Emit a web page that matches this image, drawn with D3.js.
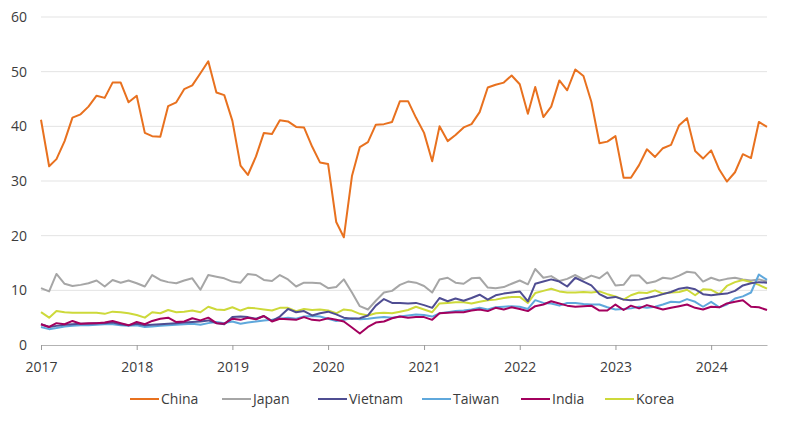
<!DOCTYPE html>
<html>
<head>
<meta charset="utf-8">
<script src="https://cdn.jsdelivr.net/npm/d3@7"></script>
<style>
  html, body { margin: 0; padding: 0; background: #fff; }
  svg { display: block; font-family: "Open Sans", "Noto Sans", sans-serif; }
</style>
</head>
<body>
<svg id="chart" width="800" height="423"></svg>
<script>
const startMonth = "2017-01";
const yTicks = [0, 10, 20, 30, 40, 50, 60];
const xTickYears = [2017, 2018, 2019, 2020, 2021, 2022, 2023, 2024];
const seriesNames = ["China", "Japan", "Vietnam", "Taiwan", "India", "Korea"];
const seriesColors = ["#E8711F", "#A6A6A6", "#4F4D92", "#5FA8DC", "#A3005E", "#CDD93A"];

const china = [
  41.2, 32.7, 34.0, 37.3, 41.6, 42.2, 43.6, 45.6, 45.2, 48.0, 48.0, 44.4,
  45.6, 38.8, 38.2, 38.1, 43.7, 44.4, 46.8, 47.5, 49.7, 51.9, 46.2, 45.7,
  41.0, 32.8, 31.1, 34.5, 38.8, 38.6, 41.1, 40.9, 39.9, 39.8, 36.3, 33.4,
  33.1, 22.5, 19.7, 30.9, 36.2, 37.1, 40.3, 40.4, 40.8, 44.6, 44.6, 41.6,
  38.8, 33.6, 40.0, 37.3, 38.4, 39.8, 40.4, 42.6, 47.1, 47.6, 48.0, 49.3,
  47.7, 42.3, 47.2, 41.7, 43.6, 48.4, 46.6, 50.4, 49.2, 44.5, 36.9, 37.2,
  38.2, 30.6, 30.6, 32.9, 35.8, 34.4, 36.0, 36.6, 40.2, 41.5, 35.5, 34.1,
  35.6, 32.1, 29.9, 31.6, 34.9, 34.2, 40.8, 39.9
];
const japan = [
  10.4, 9.8, 13.0, 11.2, 10.8, 11.0, 11.3, 11.8, 10.7, 11.9, 11.4, 11.8,
  11.3, 10.7, 12.8, 11.9, 11.5, 11.3, 11.8, 12.2, 10.1, 12.8, 12.5, 12.2,
  11.6, 11.4, 13.0, 12.8, 11.9, 11.7, 12.8, 12.0, 10.7, 11.4, 11.4, 11.3,
  10.4, 10.6, 12.0, 9.6, 7.1, 6.5, 8.1, 9.6, 9.9, 11.0, 11.6, 11.4,
  10.8, 9.6, 12.0, 12.3, 11.4, 11.2, 12.2, 12.3, 10.5, 10.4, 10.6, 11.2,
  11.8, 11.1, 13.9, 12.3, 12.6, 11.7, 12.1, 12.8, 12.0, 12.7, 12.2, 13.3,
  10.9, 11.0, 12.7, 12.7, 11.3, 11.6, 12.3, 12.1, 12.7, 13.4, 13.2, 11.6,
  12.3, 11.8, 12.1, 12.3, 12.0, 11.8, 12.0, 11.6
];
const vietnam = [
  3.8, 3.3, 3.5, 3.7, 3.8, 3.9, 3.9, 4.0, 4.0, 4.1, 3.8, 3.6,
  3.9, 3.6, 3.7, 3.8, 3.9, 4.0, 4.1, 4.2, 4.3, 4.5, 4.0, 3.8,
  5.1, 5.2, 5.1, 4.8, 5.3, 4.4, 5.2, 6.6, 6.0, 6.2, 5.4, 5.8,
  6.1, 5.6, 5.0, 4.8, 4.9, 5.4, 7.2, 8.4, 7.7, 7.7, 7.6, 7.7,
  7.3, 6.8, 8.6, 8.0, 8.5, 8.1, 8.6, 9.2, 8.3, 9.1, 9.4, 9.6,
  9.8, 8.0, 11.2, 11.6, 12.0, 11.6, 10.7, 12.3, 11.6, 10.9, 9.3, 8.6,
  8.8, 8.3, 8.2, 8.3, 8.6, 8.9, 9.3, 9.7, 10.3, 10.5, 10.2, 9.3,
  9.1, 9.3, 9.4, 9.9, 10.9, 11.3, 11.5, 11.4
];
const taiwan = [
  3.3, 2.9, 3.1, 3.4, 3.5, 3.6, 3.6, 3.7, 3.8, 3.8, 3.6, 3.5,
  3.6, 3.3, 3.4, 3.5, 3.6, 3.7, 3.8, 3.9, 3.7, 4.0, 4.2, 4.0,
  4.3, 3.9, 4.1, 4.3, 4.5, 4.6, 4.8, 5.0, 4.8, 5.2, 5.3, 5.2,
  4.8, 4.4, 4.6, 4.9, 4.7, 4.8, 5.0, 5.1, 5.0, 5.2, 5.4, 5.6,
  5.5, 5.2, 5.8, 6.0, 6.2, 6.3, 6.5, 6.8, 6.5, 6.9, 7.0, 7.1,
  7.0, 6.6, 8.2, 7.7, 7.6, 7.2, 7.7, 7.7, 7.5, 7.4, 7.4, 6.9,
  6.5, 6.6, 6.7, 7.0, 6.8, 7.0, 7.4, 7.9, 7.8, 8.4, 7.9, 7.0,
  7.9, 6.9, 7.4, 8.5, 8.9, 9.6, 12.9, 11.9
];
const india = [
  3.8, 3.3, 4.0, 3.8, 4.4, 3.9, 4.0, 4.0, 4.1, 4.4, 4.0, 3.6,
  4.2, 3.8, 4.4, 4.8, 5.0, 4.2, 4.3, 4.9, 4.5, 5.0, 4.0, 3.9,
  4.8, 4.6, 5.0, 4.7, 5.3, 4.3, 4.8, 4.7, 4.6, 5.1, 4.6, 4.5,
  4.9, 4.6, 4.3, 3.2, 2.1, 3.3, 4.1, 4.3, 4.9, 5.2, 5.0, 5.1,
  5.1, 4.6, 5.8, 5.9, 6.0, 6.0, 6.3, 6.5, 6.2, 6.8, 6.5, 6.9,
  6.6, 6.2, 7.1, 7.4, 8.0, 7.6, 7.2, 7.0, 7.1, 7.2, 6.3, 6.3,
  7.4, 6.4, 7.2, 6.7, 7.3, 6.9, 6.5, 6.8, 7.1, 7.4, 6.8, 6.5,
  7.0, 6.9, 7.6, 7.9, 8.2, 7.0, 6.9, 6.4
];
const korea = [
  6.0, 5.0, 6.2, 6.0, 5.9, 5.9, 5.9, 5.9, 5.7, 6.1, 6.0, 5.8,
  5.5, 5.0, 6.0, 5.8, 6.4, 6.0, 6.1, 6.3, 6.0, 7.0, 6.5, 6.4,
  6.9, 6.3, 6.8, 6.7, 6.5, 6.3, 6.8, 6.8, 6.2, 6.6, 6.4, 6.5,
  6.3, 5.8, 6.5, 6.3, 5.7, 5.4, 5.8, 5.9, 5.8, 6.1, 6.4, 7.0,
  6.5, 6.0, 7.6, 7.7, 7.8, 7.8, 7.6, 7.9, 8.2, 8.3, 8.6, 8.8,
  8.8, 7.7, 9.5, 9.9, 10.3, 9.8, 9.6, 9.6, 9.7, 9.6, 9.8, 9.3,
  8.9, 8.3, 9.1, 9.6, 9.5, 10.0, 9.4, 9.6, 9.7, 10.1, 9.1, 10.2,
  10.1, 9.3, 10.8, 11.5, 11.9, 11.5, 11.0, 10.3
];

const seriesValues = [china, japan, vietnam, taiwan, india, korea];

const svg = d3.select("#chart");
const plotLeft = 41, plotRight = 767, plotTop = 17, plotBottom = 345;

const start = d3.timeParse("%Y-%m")(startMonth);
const dates = china.map((_, i) => d3.timeMonth.offset(start, i));

const x = d3.scaleTime().domain([dates[0], dates[dates.length - 1]]).range([plotLeft, plotRight]);
const y = d3.scaleLinear().domain([0, 60]).range([plotBottom, plotTop]);

// gridlines
svg.append("g").selectAll("line").data(yTicks.filter(d => d > 0)).join("line")
  .attr("x1", plotLeft).attr("x2", plotRight)
  .attr("y1", d => y(d)).attr("y2", d => y(d))
  .attr("stroke", "#e3e3e3").attr("stroke-width", 1);

// y axis labels
const yAxis = d3.axisLeft(y).tickValues(yTicks).tickSize(0).tickPadding(14);
const gy = svg.append("g").attr("transform", `translate(${plotLeft},0)`).call(yAxis);
gy.select(".domain").remove();
gy.selectAll("text").attr("font-size", 14).attr("fill", "#3c3c3c")
  .attr("font-family", "'Open Sans', 'Noto Sans', sans-serif");

// x axis
const xAxis = d3.axisBottom(x)
  .tickValues(xTickYears.map(yr => new Date(yr, 0, 1)))
  .tickFormat(d3.timeFormat("%Y"))
  .tickSize(5).tickSizeOuter(0).tickPadding(12);
const gx = svg.append("g").attr("transform", `translate(0,${plotBottom})`).call(xAxis);
gx.select(".domain").attr("stroke", "#b3b3b3").attr("stroke-width", 1.2);
gx.selectAll(".tick line").attr("stroke", "#9a9a9a");
gx.selectAll("text").attr("font-size", 14).attr("fill", "#3c3c3c")
  .attr("font-family", "'Open Sans', 'Noto Sans', sans-serif");

// lines
const line = d3.line().x((d, i) => x(dates[i])).y(d => y(d)).curve(d3.curveLinear);
const order = [1, 5, 3, 2, 4, 0];
order.forEach(k => {
  svg.append("path")
    .datum(seriesValues[k])
    .attr("d", line)
    .attr("fill", "none")
    .attr("stroke", seriesColors[k])
    .attr("stroke-width", 2)
    .attr("stroke-linejoin", "round");
});

// legend
const legendX = [130, 222, 318, 422, 521, 605];
const lg = svg.append("g");
seriesNames.forEach((n, i) => {
  lg.append("line")
    .attr("x1", legendX[i]).attr("x2", legendX[i] + 29)
    .attr("y1", 399).attr("y2", 399)
    .attr("stroke", seriesColors[i]).attr("stroke-width", 2);
  lg.append("text")
    .attr("x", legendX[i] + 31).attr("y", 404)
    .attr("font-size", 14).attr("fill", "#3c3c3c")
    .text(n);
});
</script>
</body>
</html>
